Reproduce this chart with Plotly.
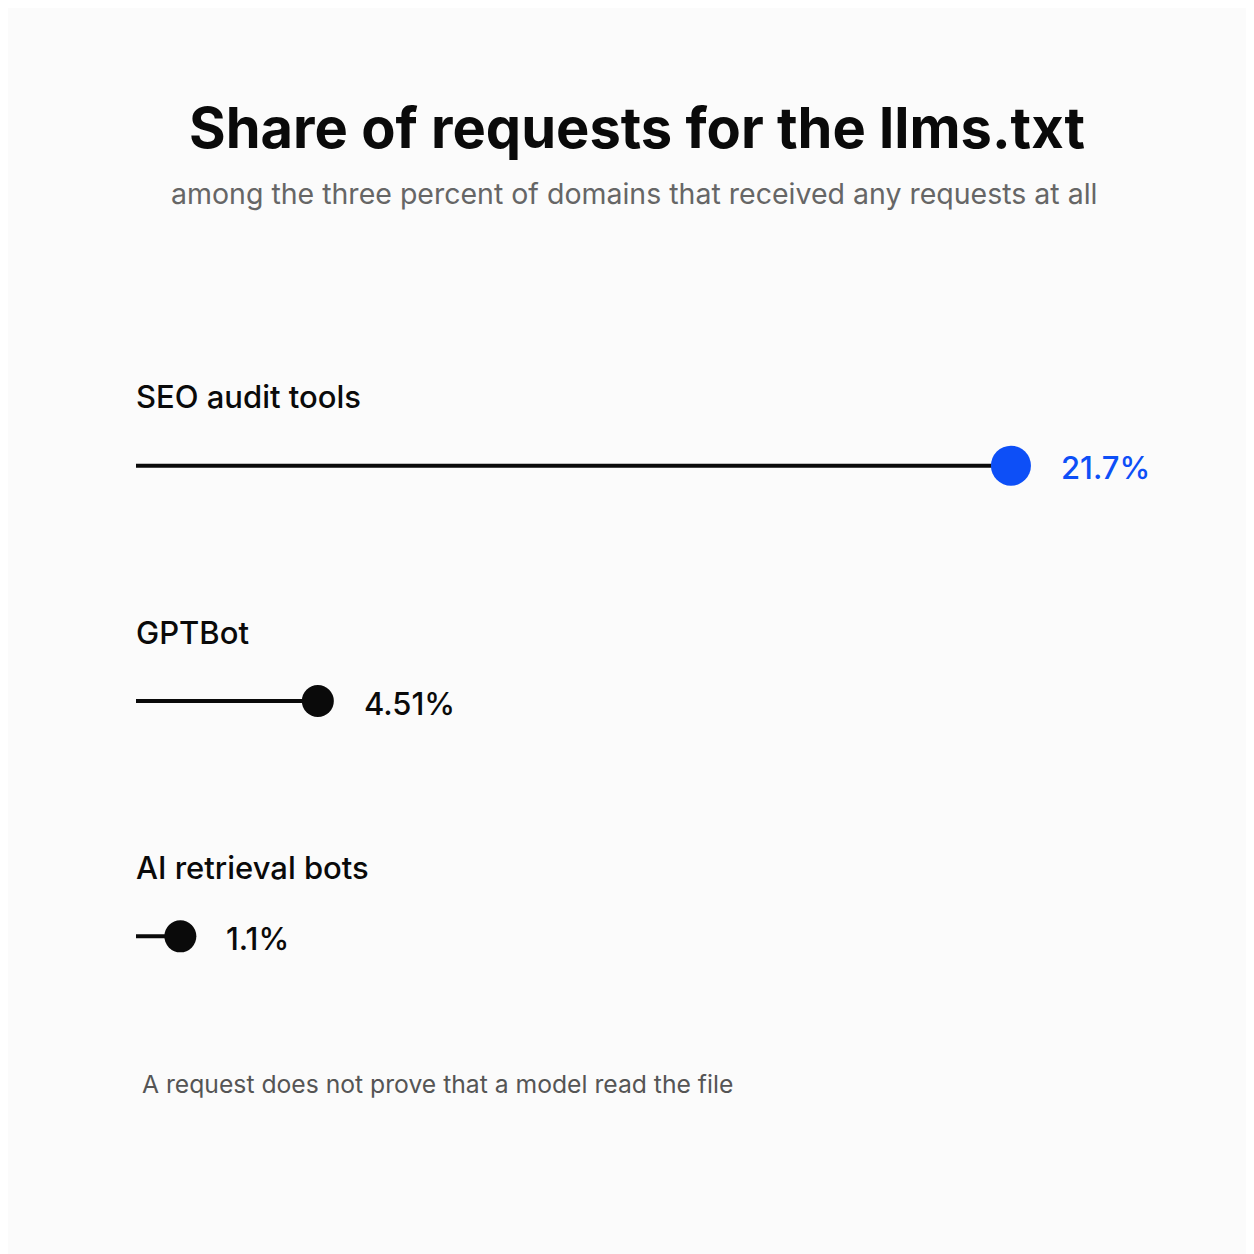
import plotly.graph_objects as go

# data
categories = ["SEO audit tools", "GPTBot", "AI retrieval bots"]
shares = [21.7, 4.51, 1.1]
share_labels = ["21.7%", "4.51%", "1.1%"]

title = "Share of requests for the llms.txt"
subtitle = "among the three percent of domains that received any requests at all"
note = "A request does not prove that a model read the file"

# styling
BG = "#fbfbfb"
INK = "#0a0a0a"
BLUE = "#0d4ff7"
FONT = "Inter, Noto Sans, sans-serif"

colors = [BLUE, INK, INK]
dot_sizes = [40, 32, 32]

fig = go.Figure()

# stems from 0 to value
for cat, v in zip(categories, shares):
    fig.add_trace(go.Scatter(
        x=[0, v], y=[cat, cat], mode="lines",
        line=dict(color=INK, width=4),
        hoverinfo="skip", showlegend=False,
    ))

# dots
fig.add_trace(go.Scatter(
    x=shares, y=categories, mode="markers",
    marker=dict(color=colors, size=dot_sizes, opacity=1, line=dict(width=0)),
    cliponaxis=False, showlegend=False,
    hovertemplate="%{y}: %{x}%<extra></extra>",
))

# category labels above each stem, value labels right of each dot
for cat, v, lab, col, sz in zip(categories, shares, share_labels, colors, dot_sizes):
    fig.add_annotation(
        x=0, y=cat, text=cat, showarrow=False,
        xanchor="left", yanchor="middle", yshift=69, xshift=-2,
        font=dict(family=FONT, size=31, color=INK, weight=500),
    )
    fig.add_annotation(
        x=v, y=cat, text=lab, showarrow=False,
        xanchor="left", yanchor="middle", xshift=sz / 2 + 28, yshift=-2,
        font=dict(family=FONT, size=31, color=col, weight=500),
    )

fig.add_annotation(
    x=0.495, y=1.219, xref="paper", yref="paper", text=subtitle,
    showarrow=False, xanchor="center", yanchor="middle",
    font=dict(family=FONT, size=28.5, color="#666666"),
)
fig.add_annotation(
    x=0.004, y=-0.042, xref="paper", yref="paper", text=note,
    showarrow=False, xanchor="left", yanchor="middle",
    font=dict(family=FONT, size=24.7, color="#555555"),
)

fig.update_layout(
    width=1254, height=1254,
    paper_bgcolor=BG, plot_bgcolor=BG,
    margin=dict(l=128, r=118, t=340, b=208),
    title=dict(
        text=title, x=629 / 1254, xanchor="center",
        y=1 - 120 / 1254, yref="container", yanchor="middle",
        font=dict(family=FONT, size=56, color=INK, weight=700),
    ),
    xaxis=dict(range=[0, 25], visible=False, fixedrange=True),
    yaxis=dict(
        categoryorder="array", categoryarray=categories,
        range=[2.5, -0.5], visible=False, fixedrange=True,
    ),
)

fig.write_html("out.html")
